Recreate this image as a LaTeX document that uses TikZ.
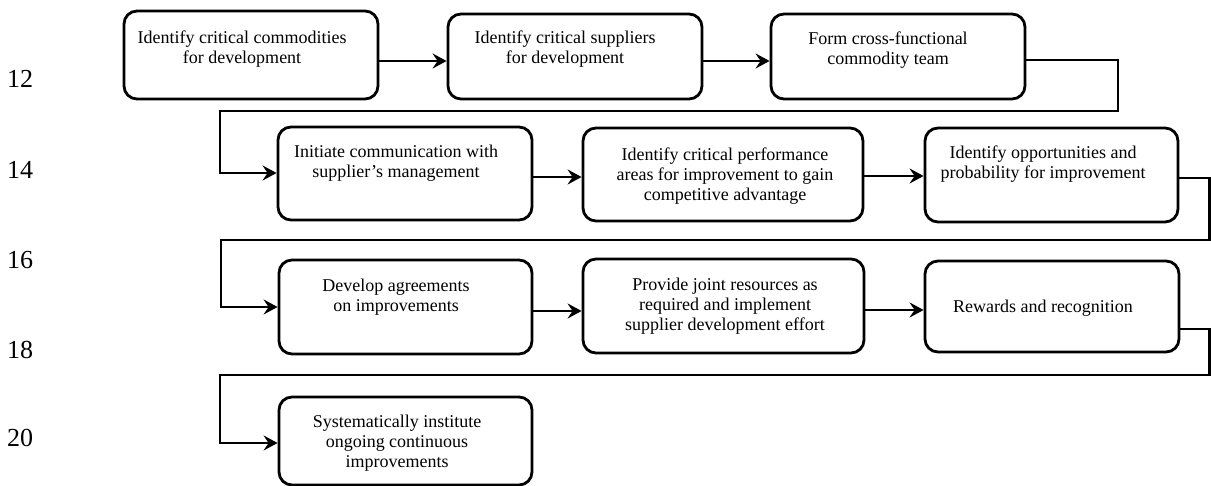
\documentclass[tikz,border=0pt]{standalone}
\usepackage{fontspec}
\setmainfont{Liberation Serif}
\usetikzlibrary{arrows.meta}
\begin{document}
\begin{tikzpicture}[x=0.5pt,y=-0.5pt,
  stepbox/.style={draw,line width=1.4pt,rounded corners=6.5pt,minimum width=#1*0.5pt},
  stepbox/.default=254,
  steptext/.style={align=center,inner sep=0pt,font=\fontsize{9pt}{9.9pt}\selectfont},
  linenum/.style={inner sep=0pt,font=\fontsize{13pt}{15pt}\selectfont},
  arr/.style={line width=1.4pt,-{Stealth[length=7pt,width=7.5pt,inset=2.5pt]}}]
\useasboundingbox (0,0) rectangle (1211,486);

% line numbers in the margin
\node[linenum] (n12) at (20,79) {12};
\node[linenum] (n14) at (20,170) {14};
\node[linenum] (n16) at (20,260) {16};
\node[linenum] (n18) at (20,350) {18};
\node[linenum] (n20) at (20,438) {20};

% boxes (outline only); their texts are placed below
\node[stepbox, minimum height=44pt] (A) at (251,55) {};
\node[stepbox, minimum height=42.5pt] (B) at (575,56.5) {};
\node[stepbox, minimum height=42.5pt] (C) at (898,56.5) {};
\node[stepbox, minimum height=46.5pt] (D) at (405,173.5) {};
\node[stepbox=280, minimum height=46.5pt] (E) at (723,174.5) {};
\node[stepbox=253, minimum height=47pt] (F) at (1051.5,175) {};
\node[stepbox=253, minimum height=47pt] (G) at (405.5,307) {};
\node[stepbox=281, minimum height=47pt] (H) at (723.5,306) {};
\node[stepbox, minimum height=45.5pt] (I) at (1052,306.5) {};
\node[stepbox=253, minimum height=44pt] (J) at (405.5,441) {};

% step texts
\node[steptext] (tA) at (242,49) {Identify critical commodities\\for development};
\node[steptext] (tB) at (565,49) {Identify critical suppliers\\for development};
\node[steptext] (tC) at (888,50) {Form cross-functional\\commodity team};
\node[steptext] (tD) at (396,163) {Initiate communication with\\supplier’s management};
\node[steptext] (tE) at (725,176) {Identify critical performance\\areas for improvement to gain\\competitive advantage};
\node[steptext] (tF) at (1043,164) {Identify opportunities and\\probability for improvement};
\node[steptext] (tG) at (396,297) {Develop agreements\\on improvements};
\node[steptext] (tH) at (725,306) {Provide joint resources as\\required and implement\\supplier development effort};
\node[steptext] (tI) at (1043,308) {Rewards and recognition};
\node[steptext] (tJ) at (397,443) {Systematically institute\\ongoing continuous\\improvements};

% bend points of the return connectors
\coordinate (c1) at (1118,111);
\coordinate (c2) at (220,173);
\coordinate (f1) at (1209.5,240);
\coordinate (f2) at (221,307);
\coordinate (i1) at (1209.5,375);
\coordinate (i2) at (220,443);

% row 1
\draw[arr] (A.east |- 0,61) -- (B.west |- 0,61);
\draw[arr] (B.east |- 0,61) -- (C.west |- 0,61);
\draw[arr] (C.east |- 0,60) -| (c1) -| (c2) -- (c2 -| D.west);
% row 2
\draw[arr] (D.east |- 0,177) -- (E.west |- 0,177);
\draw[arr] (E.east |- 0,176) -- (F.west |- 0,176);
\draw[arr] (F.east |- 0,178) -| (f1) -| (f2) -- (f2 -| G.west);
% row 3
\draw[arr] (G.east |- 0,311) -- (H.west |- 0,311);
\draw[arr] (H.east |- 0,310) -- (I.west |- 0,310);
\draw[arr] (I.east |- 0,329) -| (i1) -| (i2) -- (i2 -| J.west);
\end{tikzpicture}
\end{document}
